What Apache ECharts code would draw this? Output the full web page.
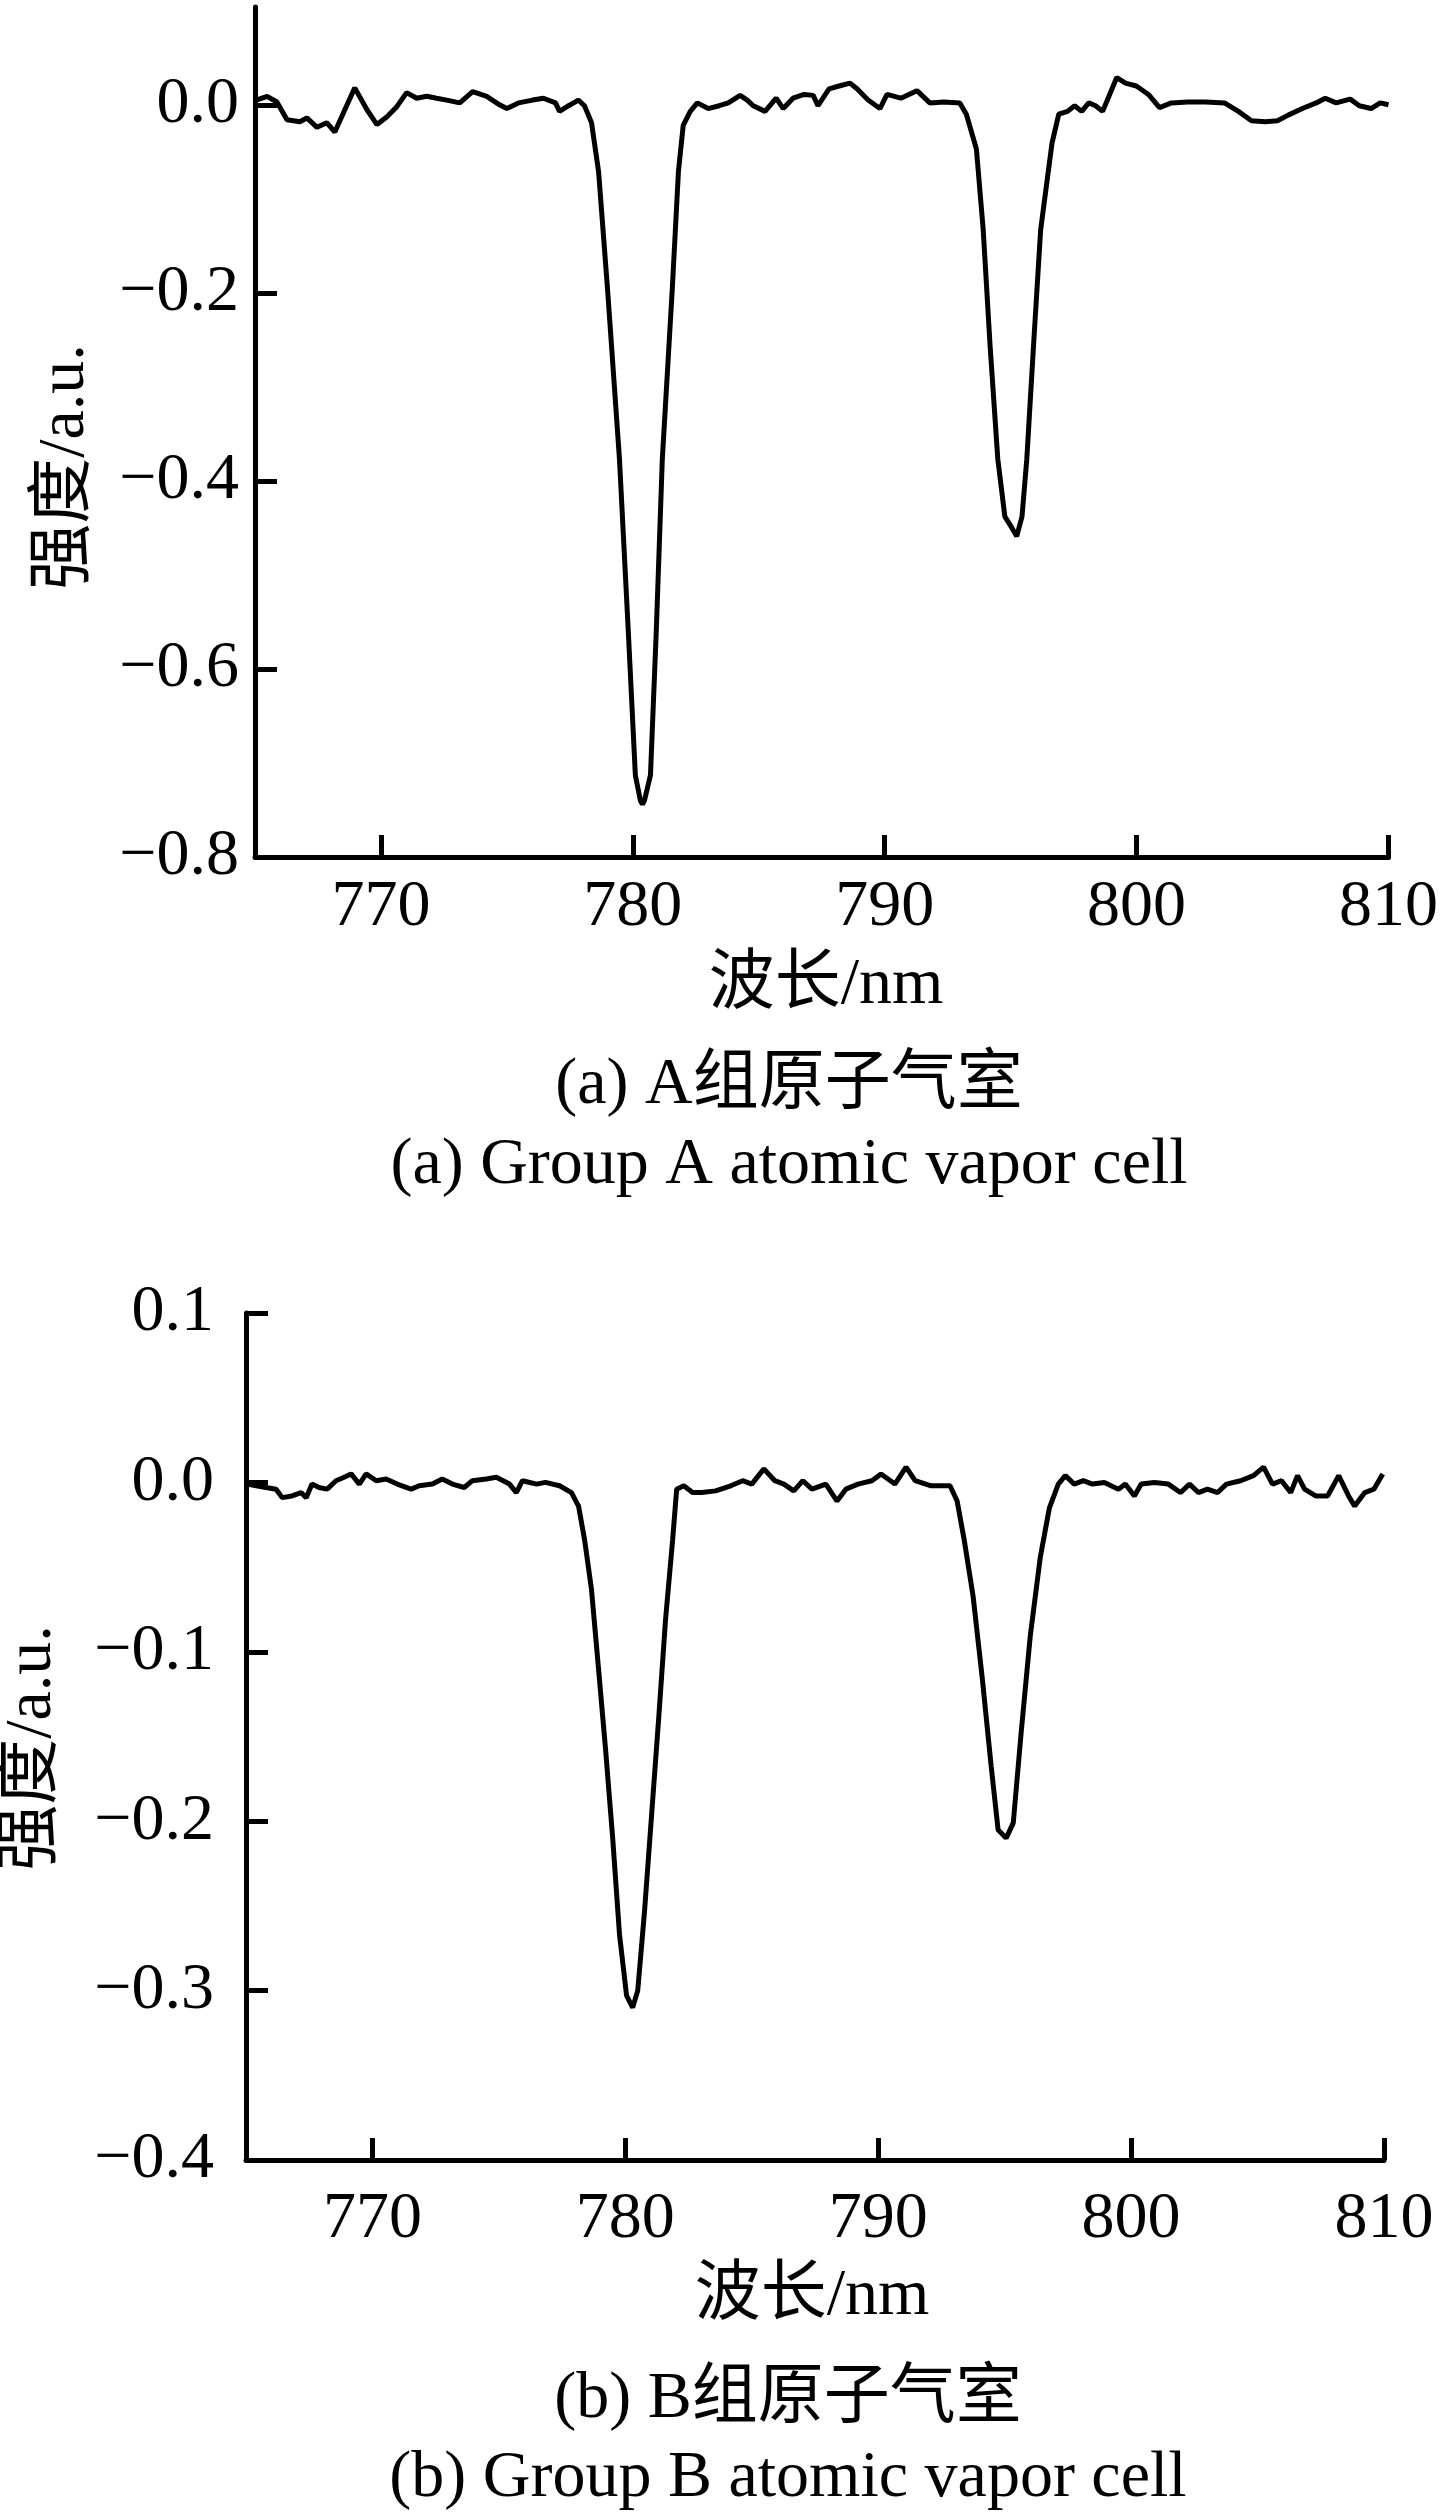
<!DOCTYPE html>
<html>
<head>
<meta charset="utf-8">
<script src="https://cdn.jsdelivr.net/npm/echarts@6/dist/echarts.min.js"></script>
<style>
html,body{margin:0;padding:0;background:#fff;}
#chart{width:1441px;height:2513px;}
</style>
</head>
<body>
<div id="chart"></div>
<script>
// ---- Data ----
const xTicks = [770, 780, 790, 800, 810];
const yTicksA = [-0.8, -0.6, -0.4, -0.2, 0.0];
const yTicksB = [-0.4, -0.3, -0.2, -0.1, 0.0, 0.1];

const wavelengthA = [765.05,765.48,765.87,766.27,766.78,767.06,767.46,767.85,768.17,768.57,768.96,769.44,769.84,770.23,770.63,771.02,771.42,771.82,772.21,772.61,773.13,773.64,774.2,774.71,775.0,775.46,776.02,776.45,776.93,777.09,777.45,777.84,778.08,778.36,778.64,778.99,779.47,779.82,780.10,780.30,780.38,780.46,780.70,780.93,781.17,781.57,781.81,782.00,782.28,782.56,782.99,783.43,783.79,784.26,784.54,784.78,785.25,785.69,785.97,786.36,786.80,787.16,787.35,787.79,788.19,788.62,788.90,789.34,789.81,790.09,790.64,791.28,791.79,792.35,792.98,793.24,793.64,793.91,794.18,794.49,794.77,795.05,795.24,795.45,795.64,795.91,796.19,796.64,796.91,797.26,797.54,797.82,798.10,798.37,798.65,798.93,799.21,799.56,799.99,800.47,800.91,801.38,802.02,802.73,803.49,804.04,804.56,805.11,805.59,806.02,806.58,807.13,807.49,807.92,808.48,808.84,809.31,809.67,810.0];
const intensityA = [0.005,0.009,0.003,-0.016,-0.018,-0.014,-0.024,-0.019,-0.029,-0.005,0.018,-0.005,-0.021,-0.013,-0.002,0.013,0.007,0.009,0.007,0.005,0.002,0.014,0.009,0.0,-0.004,0.002,0.005,0.007,0.002,-0.007,-0.001,0.005,-0.001,-0.019,-0.071,-0.194,-0.377,-0.560,-0.713,-0.740,-0.744,-0.740,-0.713,-0.560,-0.377,-0.194,-0.071,-0.022,-0.007,0.002,-0.004,-0.001,0.002,0.010,0.005,-0.001,-0.007,0.007,-0.004,0.007,0.011,0.010,-0.001,0.017,0.020,0.023,0.017,0.005,-0.004,0.011,0.007,0.015,0.002,0.003,0.002,-0.010,-0.047,-0.133,-0.255,-0.377,-0.438,-0.450,-0.459,-0.438,-0.377,-0.255,-0.133,-0.041,-0.010,-0.007,-0.001,-0.007,0.002,-0.001,-0.007,0.011,0.029,0.023,0.020,0.011,-0.003,0.002,0.003,0.003,0.002,-0.007,-0.017,-0.018,-0.017,-0.011,-0.004,0.002,0.007,0.002,0.006,-0.001,-0.004,0.002,0.0];

const wavelengthB = [765.05,765.40,765.79,766.19,766.43,766.82,767.18,767.38,767.61,767.89,768.21,768.56,768.88,769.16,769.48,769.75,770.15,770.54,770.98,771.53,771.85,772.37,772.76,773.16,773.63,773.95,774.50,774.90,775.42,775.69,775.93,776.49,776.84,777.40,777.87,778.15,778.39,778.66,778.94,779.22,779.50,779.77,780.05,780.29,780.49,780.76,781.04,781.32,781.59,781.87,782.03,782.31,782.66,783.02,783.57,784.17,784.64,785.00,785.48,785.91,786.27,786.66,787.02,787.38,787.93,788.37,788.72,789.20,789.75,790.11,790.66,791.10,791.46,792.09,792.84,793.12,793.40,793.75,794.11,794.47,794.74,795.06,795.34,795.65,796.01,796.41,796.77,797.12,797.40,797.75,798.11,798.47,798.94,799.50,799.77,800.13,800.40,800.92,801.47,801.95,802.31,802.66,803.02,803.42,803.77,804.33,804.84,805.24,805.59,805.95,806.31,806.58,806.86,807.30,807.77,808.21,808.60,808.84,809.24,809.60,809.95];
const intensityB = [-0.001,-0.002,-0.003,-0.004,-0.009,-0.008,-0.006,-0.009,-0.001,-0.003,-0.004,0.001,0.003,0.005,-0.001,0.005,0.001,0.002,-0.001,-0.004,-0.002,-0.001,0.002,-0.001,-0.003,0.001,0.002,0.003,-0.001,-0.006,0.001,-0.001,0.0,-0.002,-0.006,-0.014,-0.034,-0.063,-0.110,-0.158,-0.210,-0.267,-0.303,-0.310,-0.300,-0.253,-0.196,-0.139,-0.081,-0.034,-0.004,-0.002,-0.006,-0.006,-0.005,-0.002,0.001,-0.001,0.008,0.001,-0.001,-0.005,0.001,-0.004,-0.001,-0.011,-0.004,-0.001,0.001,0.005,-0.001,0.009,0.001,-0.002,-0.002,-0.011,-0.034,-0.067,-0.115,-0.168,-0.205,-0.210,-0.201,-0.148,-0.091,-0.044,-0.015,-0.001,0.004,-0.001,0.001,-0.001,0.0,-0.004,-0.001,-0.008,-0.001,0.0,-0.001,-0.006,-0.001,-0.006,-0.004,-0.006,-0.001,0.001,0.004,0.009,-0.001,0.001,-0.006,0.004,-0.004,-0.008,-0.008,0.004,-0.008,-0.014,-0.006,-0.004,0.005];

const xName = '波长/nm';
const yName = '强度/a.u.';
const subTitlesA = ['(a) A组原子气室', '(a) Group A atomic vapor cell'];
const subTitlesB = ['(b) B组原子气室', '(b) Group B atomic vapor cell'];

// ---- Chart ----
const FONT = '"Liberation Serif", "Times New Roman", "Noto Sans CJK SC", serif';
const FS = 66;
const AXW = 5;
const zip = (xs, ys) => xs.map((x, i) => [x, ys[i]]);
const fmtY = v => (v < 0 ? '\u2212' : '') + Math.abs(v).toFixed(1);

function xAxis(gridIndex, margin) {
  return {
    type: 'value', gridIndex, min: 765, max: 810,
    axisLine: { show: true, onZero: false, lineStyle: { color: '#000', width: AXW } },
    axisTick: { show: true, inside: true, length: 22, customValues: xTicks, lineStyle: { color: '#000', width: AXW } },
    axisLabel: { show: true, customValues: xTicks, margin, color: '#000', fontFamily: FONT, fontSize: FS },
    splitLine: { show: false }
  };
}
function yAxis(gridIndex, min, max, ticks, margin) {
  return {
    type: 'value', gridIndex, min, max,
    axisLine: { show: true, onZero: false, lineStyle: { color: '#000', width: AXW } },
    axisTick: { show: true, inside: true, length: 22, customValues: ticks, lineStyle: { color: '#000', width: AXW } },
    axisLabel: { show: true, customValues: ticks, margin, color: '#000', fontFamily: FONT, fontSize: FS, formatter: fmtY },
    splitLine: { show: false }
  };
}
function txt(text, x, y, rot) {
  return {
    type: 'text', x, y, rotation: rot || 0, silent: true,
    style: { text, fill: '#000', font: FS + 'px ' + FONT, textAlign: 'center', textVerticalAlign: 'middle' }
  };
}

const chart = echarts.init(document.getElementById('chart'), null, { renderer: 'canvas' });
chart.setOption({
  animation: false,
  backgroundColor: '#fff',
  grid: [
    { left: 255, top: 7, width: 1135, height: 850 },
    { left: 246, top: 1313, width: 1138, height: 847 }
  ],
  xAxis: [xAxis(0, 18), xAxis(1, 27)],
  yAxis: [yAxis(0, -0.8, 0.104, yTicksA, 16), yAxis(1, -0.4, 0.1, yTicksB, 32)],
  series: [
    { type: 'line', xAxisIndex: 0, yAxisIndex: 0, data: zip(wavelengthA, intensityA), showSymbol: false, symbol: 'none',
      lineStyle: { color: '#000', width: 5 } },
    { type: 'line', xAxisIndex: 1, yAxisIndex: 1, data: zip(wavelengthB, intensityB), showSymbol: false, symbol: 'none',
      lineStyle: { color: '#000', width: 5 } }
  ],
  graphic: [
    txt(yName, 66, 467, Math.PI / 2),
    txt(xName, 826, 986),
    txt(subTitlesA[0], 789, 1086),
    txt(subTitlesA[1], 789, 1166),
    txt(yName, 33, 1748, Math.PI / 2),
    txt(xName, 812, 2297),
    txt(subTitlesB[0], 788, 2400),
    txt(subTitlesB[1], 788, 2479)
  ]
});
</script>
</body>
</html>
